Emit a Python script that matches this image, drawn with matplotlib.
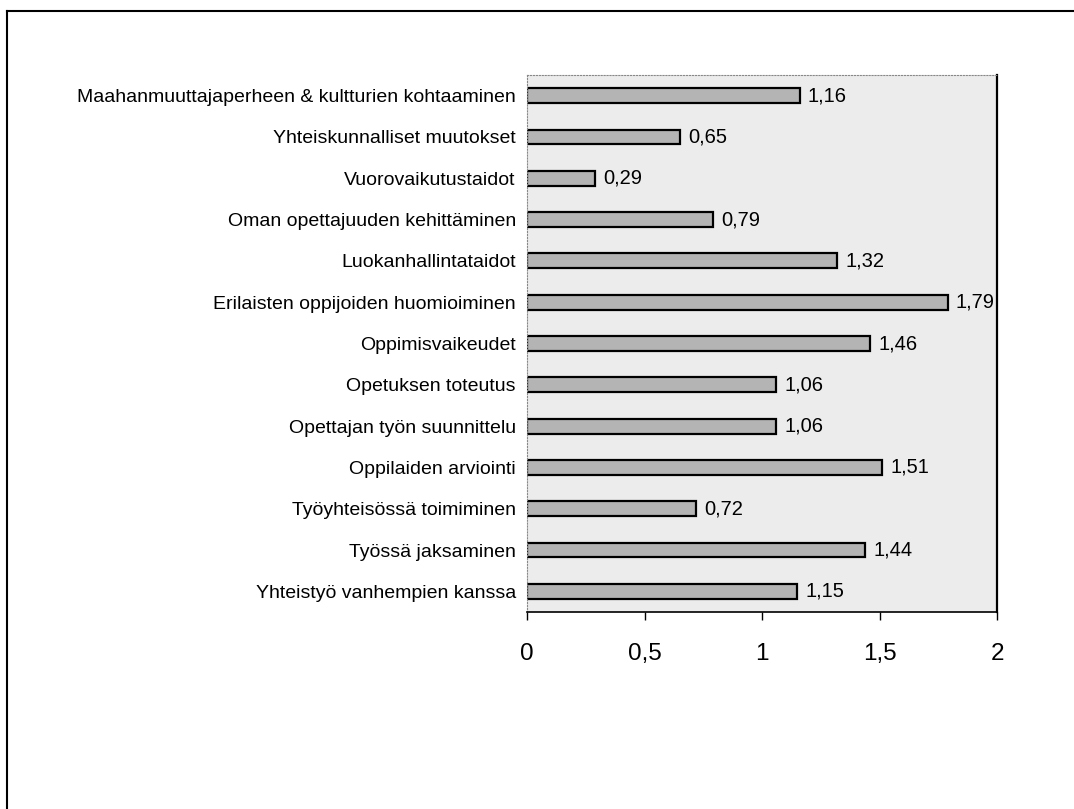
import numpy as np
import matplotlib
matplotlib.use('Agg')
import matplotlib.pyplot as plt
from matplotlib.lines import Line2D

plt.rcParams['font.family'] = ['Liberation Sans', 'DejaVu Sans']

# ── Data (top to bottom as shown) ─────────────────────────
categories = [
    'Maahanmuuttajaperheen & kultturien kohtaaminen',
    'Yhteiskunnalliset muutokset',
    'Vuorovaikutustaidot',
    'Oman opettajuuden kehittäminen',
    'Luokanhallintataidot',
    'Erilaisten oppijoiden huomioiminen',
    'Oppimisvaikeudet',
    'Opetuksen toteutus',
    'Opettajan työn suunnittelu',
    'Oppilaiden arviointi',
    'Työyhteisössä toimiminen',
    'Työssä jaksaminen',
    'Yhteistyö vanhempien kanssa',
]
values = [1.16, 0.65, 0.29, 0.79, 1.32, 1.79, 1.46, 1.06, 1.06, 1.51, 0.72, 1.44, 1.15]
xticks = [0, 0.5, 1, 1.5, 2]
xtick_labels = ['0', '0,5', '1', '1,5', '2']

BAR_FILL = '#b4b4b4'
PANEL = '#ececec'

fig = plt.figure(figsize=(10.74, 8.09), dpi=100, facecolor='white')
ax = fig.add_axes([527/1074, 1 - 612/809, 470/1074, 537/809])
ax.set_facecolor(PANEL)

y = np.arange(len(categories))
ax.barh(y, values, height=0.36, color=BAR_FILL, edgecolor='black', lw=1.6)
for yi, v in zip(y, values):
    ax.text(v + 0.035, yi, f'{v:.2f}'.replace('.', ','), va='center', ha='left',
            fontsize=14.5, color='black')

ax.set_xlim(0, 2)
ax.set_ylim(len(categories) - 0.5, -0.5)
ax.set_yticks(y)
ax.set_yticklabels(categories, fontsize=14)
ax.tick_params(axis='y', length=0, pad=8)
ax.set_xticks(xticks)
ax.set_xticklabels(xtick_labels, fontsize=17.5)
ax.tick_params(axis='x', length=6, width=1, direction='out', pad=16)

ax.spines['bottom'].set_color('black')
ax.spines['bottom'].set_linewidth(1.2)
ax.spines['right'].set_color('black')
ax.spines['right'].set_linewidth(1.6)
ax.spines['top'].set_color('#888888')
ax.spines['top'].set_linestyle(':')
ax.spines['left'].set_color('#888888')
ax.spines['left'].set_linestyle(':')

# outer frame of the scanned chart (left and top edges)
fig.add_artist(Line2D([7/1074, 7/1074], [0, 1 - 11/809], color='black', lw=1.5,
                      transform=fig.transFigure))
fig.add_artist(Line2D([7/1074, 1], [1 - 11/809, 1 - 11/809], color='black', lw=1.5,
                      transform=fig.transFigure))

fig.savefig('out.png', dpi=100, facecolor='white')
